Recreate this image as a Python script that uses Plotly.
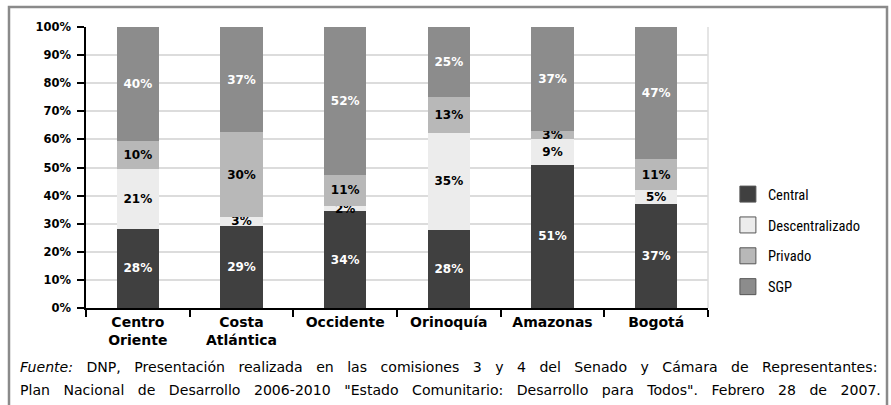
import plotly.graph_objects as go

categories = ["Centro<br>Oriente", "Costa<br>Atlántica", "Occidente", "Orinoquía", "Amazonas", "Bogotá"]
central = [28, 29, 34, 28, 51, 37]
descentralizado = [21, 3, 2, 35, 9, 5]
privado = [10, 30, 11, 13, 3, 11]
sgp = [40, 37, 52, 25, 37, 47]
y_ticks = [0, 10, 20, 30, 40, 50, 60, 70, 80, 90, 100]
y_tick_labels = ["0%", "10%", "20%", "30%", "40%", "50%", "60%", "70%", "80%", "90%", "100%"]

series = [
    ("Central", central, "#404040", "white"),
    ("Descentralizado", descentralizado, "#ececec", "black"),
    ("Privado", privado, "#b8b8b8", "black"),
    ("SGP", sgp, "#8c8c8c", "white"),
]

cond_font = "Noto Sans Condensed, Roboto Condensed, DejaVu Sans Condensed, Roboto, sans-serif"
bold_font = "DejaVu Sans, Verdana, sans-serif"
NB = "\u00a0"

fig = go.Figure()
for name, vals, color, tcolor in series:
    fig.add_trace(go.Bar(
        x=categories, y=vals, name=name,
        marker=dict(color=color, line=dict(width=0)),
        text=[f"{v}%" for v in vals],
        textposition="inside", insidetextanchor="middle", textangle=0,
        textfont=dict(family=bold_font, size=12, color=tcolor, weight="bold"),
        constraintext="none",
        showlegend=False, hoverinfo="skip",
    ))
    # legend entry
    fig.add_trace(go.Scatter(
        x=[None], y=[None], mode="markers", name=name,
        legendgroup=name,
        marker=dict(symbol="square", size=16, color=color,
                    line=dict(color="#555555", width=1)),
    ))

fig.update_layout(
    barmode="stack",
    barnorm="percent",
    bargap=0.59,
    width=891, height=405,
    margin=dict(l=86, r=183, t=27, b=97, autoexpand=False),
    paper_bgcolor="white", plot_bgcolor="white",
    uniformtext=dict(mode="show", minsize=12),
    font=dict(family=cond_font, color="black"),
    legend=dict(
        x=1.032, xanchor="left", y=0.462, yanchor="top",
        traceorder="grouped", tracegroupgap=9,
        font=dict(family=cond_font, size=14.5, color="black"),
        bgcolor="rgba(0,0,0,0)",
    ),
    xaxis=dict(
        showline=True, linecolor="black", linewidth=1.5,
        ticks="outside", ticklen=7, tickwidth=1.5, tickcolor="black",
        tickson="boundaries", showgrid=False,
        tickfont=dict(family=bold_font, size=14, color="black", weight="bold"),
    ),
    yaxis=dict(
        range=[0, 100], tickmode="array", tickvals=y_ticks,
        ticktext=[t + NB for t in y_tick_labels],
        showline=True, linecolor="black", linewidth=1.5,
        ticks="outside", ticklen=7, tickwidth=1.5, tickcolor="black",
        showgrid=True, gridcolor="#dcdcdc", gridwidth=1.5,
        zeroline=False,
        tickfont=dict(family=bold_font, size=11.5, color="black", weight="bold"),
    ),
)

# right border of the plot area (light grey)
fig.add_shape(type="line", xref="paper", yref="paper", x0=1, x1=1, y0=0, y1=1,
              line=dict(color="#dcdcdc", width=1.5))
# outer frame
fig.add_shape(type="rect", xref="paper", yref="paper",
              x0=-0.1238, x1=1.2878, y0=-0.40, y1=1.0712,
              line=dict(color="#8a8a8a", width=2.5), layer="above")

GAP = NB * 3
line1_words = ["<i>Fuente:</i>", "DNP,", "Presentación", "realizada", "en", "las", "comisiones",
               "3", "y", "4", "del", "Senado", "y", "Cámara", "de", "Representantes:"]
line2_words = ["Plan", "Nacional", "de", "Desarrollo", "2006-2010", "\"Estado", "Comunitario:",
               "Desarrollo", "para", "Todos\".", "Febrero", "28", "de", "2007."]

foot_font = dict(family="DejaVu Sans, Verdana, sans-serif", size=14.1, color="black")
fig.add_annotation(
    xref="paper", yref="paper", x=-0.1093, y=-0.21, xanchor="left", yanchor="middle",
    showarrow=False, font=foot_font, text=GAP.join(line1_words),
)
fig.add_annotation(
    xref="paper", yref="paper", x=-0.1093, y=-0.292, xanchor="left", yanchor="middle",
    showarrow=False, font=foot_font, text=GAP.join(line2_words),
)

fig.write_html(
    "out.html",
    config={"displayModeBar": False},
    post_script="document.body.style.margin='0';document.body.style.overflow='hidden';",
)
